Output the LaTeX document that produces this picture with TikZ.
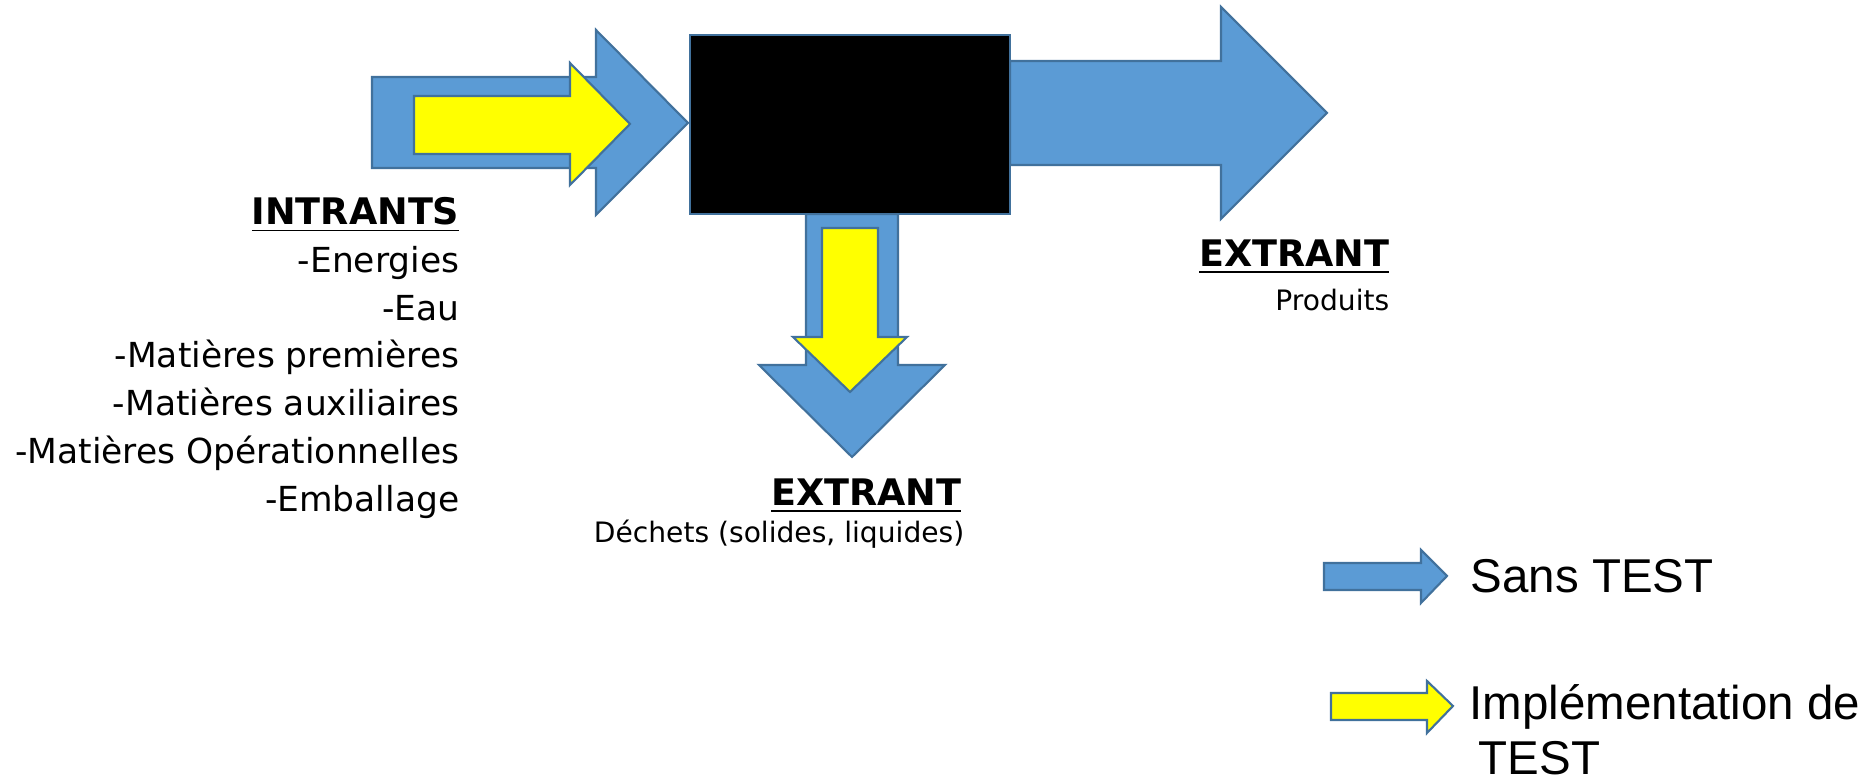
\documentclass[tikz,border=0pt]{standalone}
\usepackage{fontspec}
\newfontfamily\labelfont{DejaVu Sans}
\newfontfamily\legendfont{Liberation Sans}
\definecolor{flowblue}{HTML}{5B9BD5}
\definecolor{flowedge}{HTML}{41719C}
\definecolor{flowyellow}{HTML}{FFFF00}
\tikzset{
  bluearrow/.style={fill=flowblue, draw=flowedge, line width=0.6pt, line join=miter},
  yellowarrow/.style={fill=flowyellow, draw=flowedge, line width=0.6pt, line join=miter},
  listtext/.style={inner sep=0pt, anchor=base east, font=\labelfont\fontsize{9.8pt}{12pt}\selectfont},
  headtext/.style={inner sep=0pt, anchor=base east, font=\labelfont\bfseries\fontsize{10.4pt}{12pt}\selectfont},
  smalltext/.style={inner sep=0pt, anchor=base east, font=\labelfont\fontsize{8pt}{9pt}\selectfont},
  legendtext/.style={inner sep=0pt, anchor=base west, font=\legendfont\fontsize{13.5pt}{16pt}\selectfont},
}
\begin{document}
\begin{tikzpicture}[x=0.01cm, y=-0.01cm]
\useasboundingbox (0,0) rectangle (1868,780);

% input arrow (blue) with the yellow arrow inside
\draw[bluearrow] (372,77) -- (596,77) -- (596,30) -- (688,123) -- (596,215) -- (596,168) -- (372,168) -- cycle;
\draw[yellowarrow] (414,96) -- (570,96) -- (570,63) -- (630,124) -- (570,185) -- (570,154) -- (414,154) -- cycle;

% product arrow to the right
\draw[bluearrow] (1010,61) -- (1221,61) -- (1221,7) -- (1327,113) -- (1221,219) -- (1221,165) -- (1010,165) -- cycle;

% waste arrow downwards, blue with yellow inside
\draw[bluearrow] (806,214) -- (898,214) -- (898,365) -- (945,365) -- (852,457) -- (759,365) -- (806,365) -- cycle;
\draw[yellowarrow] (822,228) -- (878,228) -- (878,337) -- (907,337) -- (850,392) -- (793,337) -- (822,337) -- cycle;

% the process box
\node[draw=flowedge, fill=black, line width=0.6pt, inner sep=0pt, outer sep=0pt,
      minimum width=3.2cm, minimum height=1.79cm, anchor=north west] (process) at (690,35) {};

% inputs
\node[headtext] (intrants) at (460,225) {\underline{INTRANTS}};
\node[listtext] (in1) at (460,273) {-Energies};
\node[listtext] (in2) at (460,321) {-Eau};
\node[listtext] (in3) at (460,368) {-Matières premières};
\node[listtext] (in4) at (460,416) {-Matières auxiliaires};
\node[listtext] (in5) at (460,464) {-Matières Opérationnelles};
\node[listtext] (in6) at (460,512) {-Emballage};

% outputs
\node[headtext] (extprod) at (1390,267) {\underline{EXTRANT}};
\node[smalltext] (produits) at (1390,311) {Produits};
\node[headtext] (extwaste) at (962,506) {\underline{EXTRANT}};
\node[smalltext] (dechets) at (965,543) {Déchets (solides, liquides)};

% legend
\draw[bluearrow] (1324,563) -- (1421,563) -- (1421,550) -- (1447,576) -- (1421,603) -- (1421,590) -- (1324,590) -- cycle;
\node[legendtext] (sans) at (1470,593) {Sans TEST};
\draw[yellowarrow] (1331,693) -- (1427,693) -- (1427,681) -- (1453,706) -- (1427,733) -- (1427,720) -- (1331,720) -- cycle;
\node[legendtext] (impl1) at (1469,720) {Implémentation de};
\node[legendtext] (impl2) at (1478,775) {TEST};
\end{tikzpicture}
\end{document}
